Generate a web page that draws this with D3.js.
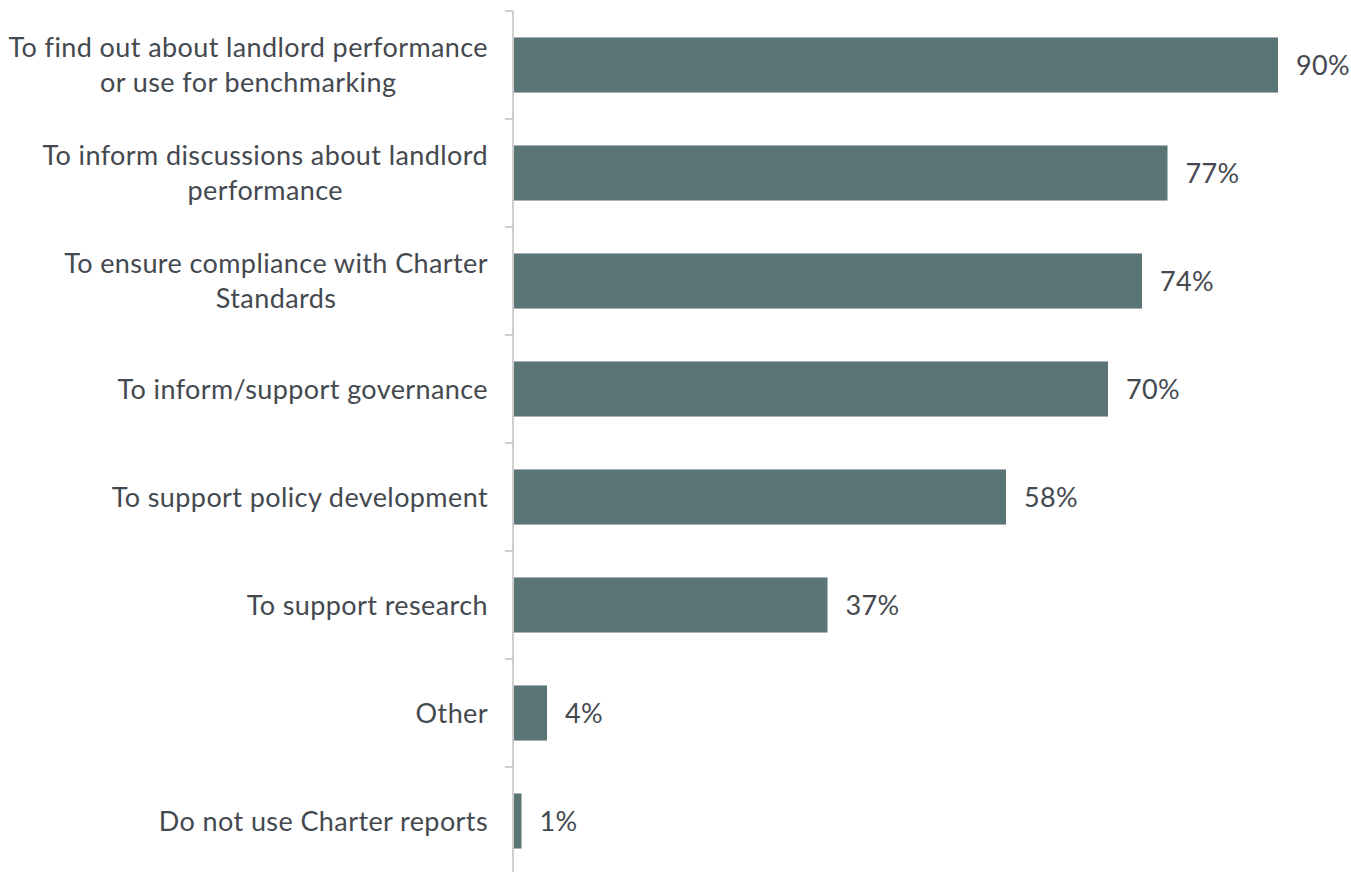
<!DOCTYPE html>
<html>
<head>
<meta charset="utf-8">
<script src="https://cdn.jsdelivr.net/npm/d3@7"></script>
<style>
  html, body { margin: 0; padding: 0; background: #fff; }
  svg { display: block; }
  text { font-family: Lato, "Open Sans", sans-serif; fill: #44494f; letter-spacing: 0.4px; }
</style>
</head>
<body>
<svg id="chart" width="1351" height="872"></svg>
<script>
// Reasons for using Charter reports (% of respondents)
const categories = [
  ["To find out about landlord performance", "or use for benchmarking"],
  ["To inform discussions about landlord", "performance"],
  ["To ensure compliance with Charter", "Standards"],
  ["To inform/support governance"],
  ["To support policy development"],
  ["To support research"],
  ["Other"],
  ["Do not use Charter reports"]
];
const values = [90, 77, 74, 70, 58, 37, 4, 1];

const svg = d3.select("#chart");
const margin = { top: 11, left: 513 };
const bandStep = 108;
const keys = categories.map((d, i) => i);
const fontSize = 27;

const y = d3.scaleBand()
  .domain(keys)
  .range([margin.top, margin.top + bandStep * keys.length])
  .paddingInner(0.49)
  .paddingOuter(0.245);

const x = d3.scaleLinear()
  .domain([0, 100])
  .range([margin.left, margin.left + 850]);

// category axis: vertical line with ticks at band boundaries
const g = svg.append("g");
g.append("line")
  .attr("x1", margin.left).attr("x2", margin.left)
  .attr("y1", margin.top).attr("y2", 872)
  .attr("stroke", "#bfbfbf").attr("stroke-width", 1.5);

const boundaries = d3.range(keys.length + 1).map(i => margin.top + i * bandStep);
g.selectAll("line.tick").data(boundaries).join("line")
  .attr("class", "tick")
  .attr("x1", margin.left - 8).attr("x2", margin.left)
  .attr("y1", d => d).attr("y2", d => d)
  .attr("stroke", "#bfbfbf").attr("stroke-width", 1.5);

// bars
svg.selectAll("rect.bar").data(values).join("rect")
  .attr("class", "bar")
  .attr("x", x(0) + 1)
  .attr("y", (d, i) => y(i))
  .attr("width", d => x(d) - x(0) - 1)
  .attr("height", y.bandwidth())
  .attr("fill", "#5b7577");

// value labels
svg.selectAll("text.val").data(values).join("text")
  .attr("class", "val")
  .attr("x", d => x(d) + 18)
  .attr("y", (d, i) => y(i) + y.bandwidth() / 2)
  .attr("dy", "0.36em")
  .attr("font-size", fontSize)
  .text(d => d + "%");

// category labels
const lineH = 35;
const labels = svg.selectAll("text.cat").data(categories).join("text")
  .attr("class", "cat")
  .attr("text-anchor", "middle")
  .attr("font-size", fontSize);

labels.each(function(lines, i) {
  const t = d3.select(this);
  const cy = y(i) + y.bandwidth() / 2;
  lines.forEach((ln, j) => {
    t.append("tspan")
      .attr("x", 0)
      .attr("y", cy + (j - (lines.length - 1) / 2) * lineH)
      .attr("dy", "0.36em")
      .text(ln);
  });
});

// right-align each label block at the axis, centring multi-line text within it
labels.each(function() {
  const t = d3.select(this);
  const spans = t.selectAll("tspan").nodes();
  const maxW = d3.max(spans, s => s.getComputedTextLength());
  const center = 488 - maxW / 2;
  spans.forEach(s => d3.select(s).attr("x", center));
});
</script>
</body>
</html>
